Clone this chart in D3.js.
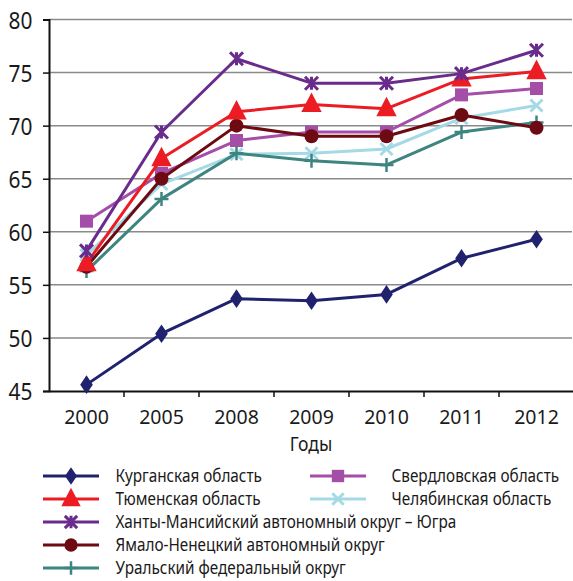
<!DOCTYPE html>
<html>
<head>
<meta charset="utf-8">
<script src="https://cdn.jsdelivr.net/npm/d3@7"></script>
<style>
  html, body { margin: 0; padding: 0; background: #fff; }
  svg { display: block; }
  text { font-family: "Noto Sans", "Open Sans", sans-serif; fill: #1a1a1a; }
</style>
</head>
<body>
<svg id="chart" width="573" height="581"></svg>
<script>
// Годы наблюдения
const years = ["2000", "2005", "2008", "2009", "2010", "2011", "2012"];
const yTicks = [45, 50, 55, 60, 65, 70, 75, 80];

// Значения показателя по субъектам
const kurgan      = [45.6, 50.4, 53.7, 53.5, 54.1, 57.5, 59.3];
const sverdlovsk  = [61.0, 65.5, 68.6, 69.4, 69.4, 72.9, 73.5];
const tyumen      = [57.0, 66.9, 71.3, 72.0, 71.6, 74.4, 75.1];
const chelyabinsk = [57.8, 64.5, 67.3, 67.4, 67.8, 70.7, 71.9];
const khanty      = [58.2, 69.4, 76.3, 74.0, 74.0, 74.9, 77.1];
const yamal       = [56.7, 65.0, 70.0, 69.0, 69.0, 71.0, 69.8];
const ural        = [56.3, 63.1, 67.4, 66.7, 66.3, 69.4, 70.3];

const seriesNames = [
  "Курганская область",
  "Свердловская область",
  "Тюменская область",
  "Челябинская область",
  "Ханты-Мансийский автономный округ – Югра",
  "Ямало-Ненецкий автономный округ",
  "Уральский федеральный округ"
];
const seriesValues = [kurgan, sverdlovsk, tyumen, chelyabinsk, khanty, yamal, ural];
const seriesColors = ["#20226f", "#a44ea8", "#ec1c24", "#a3dae6", "#6a2c8c", "#6d0a12", "#3e8582"];
const seriesMarkers = ["diamond", "square", "triangle", "cross", "star", "circle", "plus"];

const series = seriesNames.map((name, i) => ({
  name, values: seriesValues[i], color: seriesColors[i], marker: seriesMarkers[i]
}));

const svg = d3.select("#chart");
const plotLeft = 49, plotRight = 574, plotTop = 19.5, plotBottom = 391;
const narrow = 0.85; // горизонтальное сжатие шрифта

const x = d3.scaleBand().domain(years).range([plotLeft, plotRight]);
const y = d3.scaleLinear().domain([45, 80]).range([plotBottom, plotTop]);
const cx = d => x(d) + x.bandwidth() / 2;

// Горизонтальная сетка
svg.append("g")
  .selectAll("line")
  .data(yTicks.filter(t => t > 45))
  .join("line")
  .attr("x1", plotLeft).attr("x2", 572)
  .attr("y1", d => y(d)).attr("y2", d => y(d))
  .attr("stroke", "#8a8a8a").attr("stroke-width", 1.5);

// Ось Y
const yAxis = svg.append("g")
  .attr("transform", `translate(${plotLeft},0)`)
  .call(d3.axisLeft(y).tickValues(yTicks).tickSize(6).tickPadding(13));
yAxis.select(".domain").attr("stroke", "#111").attr("stroke-width", 2);
yAxis.selectAll(".tick line").attr("stroke", "#111").attr("stroke-width", 1.5);
yAxis.selectAll(".tick text")
  .style("font-size", "24px").style("font-family", "'Noto Sans', sans-serif")
  .attr("fill", "#1a1a1a").attr("dy", "0.36em")
  .attr("transform", `scale(0.87,1)`);

// Ось X
const xAxis = svg.append("g")
  .attr("transform", `translate(0,${plotBottom})`)
  .call(d3.axisBottom(x).tickSize(0).tickPadding(19));
xAxis.select(".domain").attr("stroke", "#111").attr("stroke-width", 2);
xAxis.selectAll(".tick text")
  .style("font-size", "19.5px").style("font-family", "'Noto Sans', sans-serif")
  .attr("fill", "#1a1a1a");
// засечки между категориями
svg.append("g")
  .selectAll("line")
  .data(years.slice(1))
  .join("line")
  .attr("x1", d => x(d)).attr("x2", d => x(d))
  .attr("y1", plotBottom).attr("y2", plotBottom + 6)
  .attr("stroke", "#111").attr("stroke-width", 1.5);

svg.append("text")
  .attr("transform", `translate(311,451) scale(0.9,1)`)
  .attr("text-anchor", "middle")
  .style("font-size", "19.5px")
  .text("Годы");

// Маркеры
function drawMarker(g, type, color, size) {
  const s = size;
  switch (type) {
    case "diamond":
      g.append("path").attr("d", `M0,${-s*0.62}L${s*0.42},0L0,${s*0.62}L${-s*0.42},0Z`).attr("fill", color);
      break;
    case "square":
      g.append("rect").attr("x", -s/2).attr("y", -s/2).attr("width", s).attr("height", s).attr("fill", color);
      break;
    case "triangle":
      g.append("path").attr("d", `M0,${-s*0.7}L${s*0.6},${s*0.45}L${-s*0.6},${s*0.45}Z`).attr("fill", color);
      break;
    case "circle":
      g.append("circle").attr("r", s/2).attr("fill", color);
      break;
    case "cross":
      g.append("path").attr("d", `M${-s/2},${-s/2}L${s/2},${s/2}M${-s/2},${s/2}L${s/2},${-s/2}`)
        .attr("stroke", color).attr("stroke-width", 3);
      break;
    case "star":
      g.append("path").attr("d", `M${-s/2},${-s/2}L${s/2},${s/2}M${-s/2},${s/2}L${s/2},${-s/2}M0,${-s/2}L0,${s/2}`)
        .attr("stroke", color).attr("stroke-width", 3);
      break;
    case "plus":
      g.append("path").attr("d", `M${-s/2},0L${s/2},0M0,${-s/2}L0,${s/2}`)
        .attr("stroke", color).attr("stroke-width", 2.5);
      break;
  }
}
const markerSize = { diamond: 15, square: 13, triangle: 17, circle: 14, cross: 12, star: 13, plus: 14 };

const line = d3.line().x((d, i) => cx(years[i])).y(d => y(d));

// Порядок отрисовки серий
const drawOrder = [0, 3, 1, 6, 5, 2, 4];
drawOrder.forEach(i => {
  const s = series[i];
  const g = svg.append("g");
  g.append("path").datum(s.values)
    .attr("d", line).attr("fill", "none")
    .attr("stroke", s.color).attr("stroke-width", 3).attr("stroke-linejoin", "round");
  s.values.forEach((v, j) => {
    const m = g.append("g").attr("transform", `translate(${cx(years[j])},${y(v)})`);
    drawMarker(m, s.marker, s.color, markerSize[s.marker]);
  });
});

// Легенда
const legendRows = [
  { idx: 0, col: 0, row: 0 },
  { idx: 1, col: 1, row: 0 },
  { idx: 2, col: 0, row: 1 },
  { idx: 3, col: 1, row: 1 },
  { idx: 4, col: 0, row: 2 },
  { idx: 5, col: 0, row: 3 },
  { idx: 6, col: 0, row: 4 }
];
const colX = [43, 310];
const textX = [115.5, 391.5];
const rowY = [476, 499, 522, 545, 568];
legendRows.forEach(r => {
  const s = series[r.idx];
  const g = svg.append("g");
  g.append("line")
    .attr("x1", colX[r.col]).attr("x2", colX[r.col] + 56)
    .attr("y1", rowY[r.row]).attr("y2", rowY[r.row])
    .attr("stroke", s.color).attr("stroke-width", 3);
  const m = g.append("g").attr("transform", `translate(${colX[r.col] + 28},${rowY[r.row]})`);
  drawMarker(m, s.marker, s.color, markerSize[s.marker] * 0.95);
  g.append("text")
    .attr("transform", `translate(${textX[r.col]},${rowY[r.row]}) scale(${narrow},1)`)
    .attr("dy", "0.35em")
    .style("font-size", "18px")
    .text(s.name);
});
</script>
</body>
</html>
